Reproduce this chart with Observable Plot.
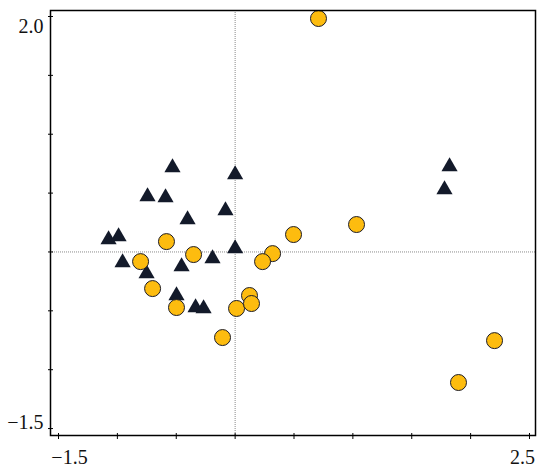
<!DOCTYPE html>
<html>
<head>
<meta charset="utf-8">
<script src="https://cdn.jsdelivr.net/npm/d3@7"></script>
<script src="https://cdn.jsdelivr.net/npm/@observablehq/plot@0.6"></script>
<style>
  html, body { margin: 0; padding: 0; background: #fff; }
  svg { display: block; }
</style>
</head>
<body>
<div id="chart"></div>
<script>
// Group A: circles (x, y)
const circleX = [0.708, 1.031, 0.496, 0.318, 0.233, -0.583, -0.353, -0.803, -0.701, -0.498, -0.107, 0.012, 0.122, 0.139, 2.203, 1.897];
const circleY = [1.983, 0.233, 0.148, -0.014, -0.082, 0.088, -0.022, -0.082, -0.311, -0.472, -0.727, -0.480, -0.370, -0.438, -0.753, -1.109];
// Group B: triangles (x, y)
const triX = [-0.532, 0.0, -0.744, -0.591, -0.082, -0.404, -1.075, -0.990, 0.0, -0.192, -0.956, -0.752, -0.455, -0.498, -0.336, -0.268, 1.821, 1.778];
const triY = [0.717, 0.658, 0.471, 0.462, 0.352, 0.275, 0.105, 0.131, 0.029, -0.056, -0.090, -0.184, -0.124, -0.370, -0.472, -0.481, 0.726, 0.530];
// Axis ticks
const xTicks = [-1.5, -1.0, -0.5, 0, 0.5, 1.0, 1.5, 2.0, 2.5];
const yTicks = [-1.5, -1.0, -0.5, 0, 0.5, 1.0, 1.5, 2.0];
const xLabelLow = [-1.5], xLabelHigh = [2.5];
const yLabelLow = [-1.5], yLabelHigh = [2.0];

const circles = circleX.map((x, i) => ({x, y: circleY[i]}));
const triangles = triX.map((x, i) => ({x, y: triY[i]}));
const fmt = d => d.toFixed(1).replace("-", "\u2212");
const font = "Liberation Serif, DejaVu Serif, serif";

const chart = Plot.plot({
  width: 550,
  height: 471,
  marginLeft: 50,
  marginRight: 15,
  marginTop: 10,
  marginBottom: 36,
  style: {fontFamily: font, fontSize: "20px", background: "#fff", color: "#111"},
  x: {domain: [-1.568, 2.551]},
  y: {domain: [-1.559, 2.051]},
  marks: [
    Plot.ruleX([0], {stroke: "#8a8a8a", strokeWidth: 1, strokeDasharray: "1,1"}),
    Plot.ruleY([0], {stroke: "#8a8a8a", strokeWidth: 1, strokeDasharray: "1,1"}),
    Plot.axisX({ticks: xTicks, tickSize: 6, dy: -2, tickFormat: () => "", label: null, stroke: "#000"}),
    Plot.axisY({ticks: yTicks, tickSize: 5, dx: 3, tickFormat: () => "", label: null, stroke: "#000"}),
    Plot.axisX({ticks: xLabelLow, tickSize: 0, tickPadding: 14, dx: 11, tickFormat: fmt, label: null, fontSize: 20, fill: "#111"}),
    Plot.axisX({ticks: xLabelHigh, tickSize: 0, tickPadding: 14, dx: -7, tickFormat: fmt, label: null, fontSize: 20, fill: "#111"}),
    Plot.axisY({ticks: yLabelHigh, tickSize: 0, tickPadding: 7, dy: 10, tickFormat: fmt, label: null, fontSize: 20, fill: "#111"}),
    Plot.axisY({ticks: yLabelLow, tickSize: 0, tickPadding: 7, dy: -6, tickFormat: fmt, label: null, fontSize: 20, fill: "#111"}),
    Plot.dot(triangles, {x: "x", y: "y", symbol: "triangle", r: 6, fill: "#131a2a", stroke: "none"}),
    Plot.dot(circles, {x: "x", y: "y", r: 8, fill: "#FDBC0F", stroke: "#1c1c28", strokeWidth: 1}),
    Plot.frame({stroke: "#000", strokeWidth: 1.5})
  ]
});
document.getElementById("chart").append(chart);
</script>
</body>
</html>
